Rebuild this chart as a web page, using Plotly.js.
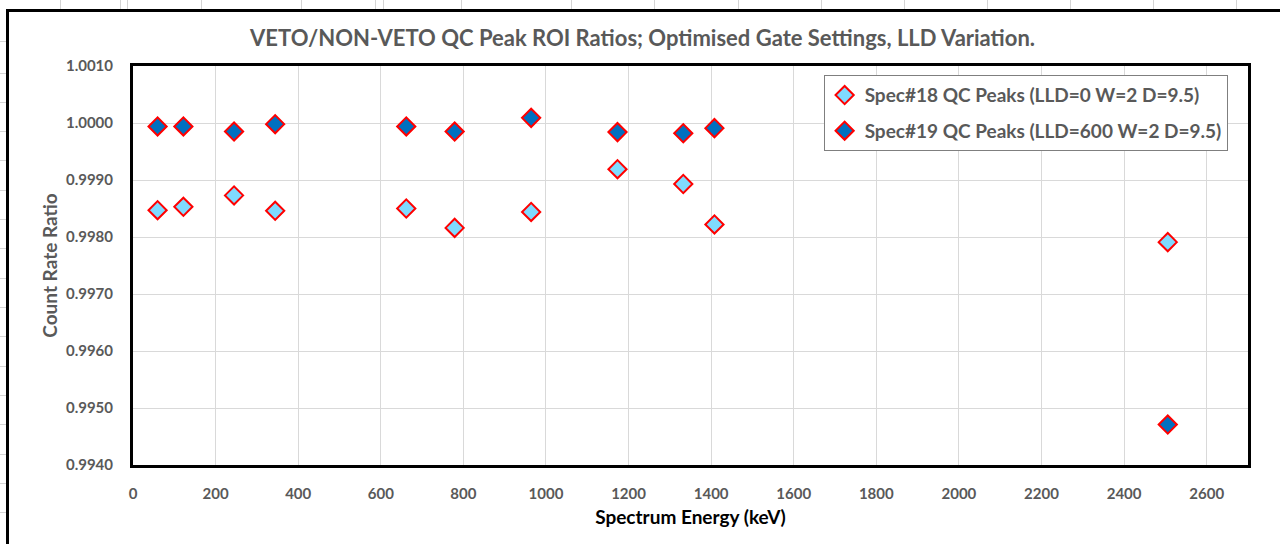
<!DOCTYPE html>
<html>
<head>
<meta charset="utf-8">
<script src="https://cdn.plot.ly/plotly-3.0.1.min.js"></script>
<style>
  html, body { margin: 0; padding: 0; background: #fff; overflow: hidden; }
  #chart { width: 1280px; height: 544px; position: absolute; left: 0; top: 0; }
  #frame { position: absolute; left: 6px; top: 9px; width: 1300px; height: 600px;
           border: 3px solid #000; pointer-events: none; }
  .cell { position: absolute; background: #d4d4d4; pointer-events: none; }
</style>
</head>
<body>
<div id="chart"></div>
<div id="frame"></div>
<script>
// Peak energies (keV)
const energies = [59.5, 122.0, 244.7, 344.3, 661.7, 778.9, 964.1, 1173.2, 1332.5, 1408.0, 2505.7];
// Spec#18 QC Peaks (LLD=0 W=2 D=9.5)
const spec18 = [0.99847, 0.99853, 0.99873, 0.99846, 0.99850, 0.99816, 0.99844, 0.99919, 0.99893, 0.99822, 0.99791];
// Spec#19 QC Peaks (LLD=600 W=2 D=9.5)
const spec19 = [0.99994, 0.99994, 0.99985, 0.99998, 0.99994, 0.99985, 1.00009, 0.99984, 0.99982, 0.99991, 0.99471];
const seriesNames = ["Spec#18 QC Peaks (LLD=0 W=2 D=9.5)", "Spec#19 QC Peaks (LLD=600 W=2 D=9.5)"];
const xTicks = [0, 200, 400, 600, 800, 1000, 1200, 1400, 1600, 1800, 2000, 2200, 2400, 2600];
const yTicks = [0.9940, 0.9950, 0.9960, 0.9970, 0.9980, 0.9990, 1.0000, 1.0010];

const FONT = "Lato, 'Open Sans', sans-serif";
const GREY = "#595959";

// faint spreadsheet cell lines visible around the chart object
[60, 120, 127, 201, 301, 375, 383, 461, 571, 654, 738, 821, 904, 987, 1070, 1153, 1236].forEach(x => {
  const d = document.createElement("div");
  d.className = "cell";
  d.style.cssText = "left:" + x + "px;top:0;width:1px;height:9px;";
  document.body.appendChild(d);
});
[41, 73, 102, 131, 160, 190, 219, 248, 278, 307, 336, 366, 395, 424, 454, 483, 512].forEach(y => {
  const d = document.createElement("div");
  d.className = "cell";
  d.style.cssText = "left:0;top:" + y + "px;width:6px;height:1px;";
  document.body.appendChild(d);
});

const traces = [
  { x: energies, y: spec18, name: seriesNames[0], type: "scatter", mode: "markers",
    legendgroup: "a",
    marker: { symbol: "diamond", size: 14, color: "#7fdbff", line: { color: "#ff0000", width: 2 } } },
  { x: energies, y: spec19, name: seriesNames[1], type: "scatter", mode: "markers",
    legendgroup: "b",
    marker: { symbol: "diamond", size: 14, color: "#0070c0", line: { color: "#ff0000", width: 2 } } }
];

const layout = {
  width: 1280, height: 544,
  margin: { l: 133, r: 32, t: 66, b: 79 },
  paper_bgcolor: "#fff", plot_bgcolor: "#fff",
  font: { family: FONT, color: GREY },
  title: { text: "VETO/NON-VETO QC Peak ROI Ratios; Optimised Gate Settings, LLD Variation.",
           x: 0.502, xref: "container", xanchor: "center",
           y: 1 - 38 / 544, yref: "container", yanchor: "middle",
           font: { family: FONT, size: 22, weight: 700, color: GREY } },
  xaxis: {
    range: [0, 2700], tickvals: xTicks, ticktext: xTicks.map(String),
    showgrid: true, gridcolor: "#d9d9d9", gridwidth: 1, zeroline: false,
    showline: true, linecolor: "#000", linewidth: 3, mirror: true,
    ticks: "", ticklabelstandoff: 13,
    tickfont: { family: FONT, size: 15, weight: 700, color: GREY },
    title: { text: "Spectrum Energy (keV)", standoff: 10,
             font: { family: FONT, size: 19, weight: 700, color: "#000" } }
  },
  yaxis: {
    range: [0.9940, 1.0010], tickvals: yTicks, ticktext: yTicks.map(v => v.toFixed(4)),
    showgrid: true, gridcolor: "#d9d9d9", gridwidth: 1, zeroline: false,
    showline: true, linecolor: "#000", linewidth: 3, mirror: true,
    ticks: "", ticklabelstandoff: 14,
    tickfont: { family: FONT, size: 15, weight: 700, color: GREY },
    title: { text: "Count Rate Ratio", standoff: 4,
             font: { family: FONT, size: 19, weight: 700, color: GREY } }
  },
  legend: {
    x: 0.6194, y: 0.977, xanchor: "left", yanchor: "top",
    bgcolor: "#fff", bordercolor: "#7f7f7f", borderwidth: 1,
    tracegroupgap: 8,
    font: { family: FONT, size: 19, weight: 700, color: GREY }
  },
  showlegend: true
};

Plotly.newPlot("chart", traces, layout, { displayModeBar: false, staticPlot: true });
</script>
</body>
</html>
